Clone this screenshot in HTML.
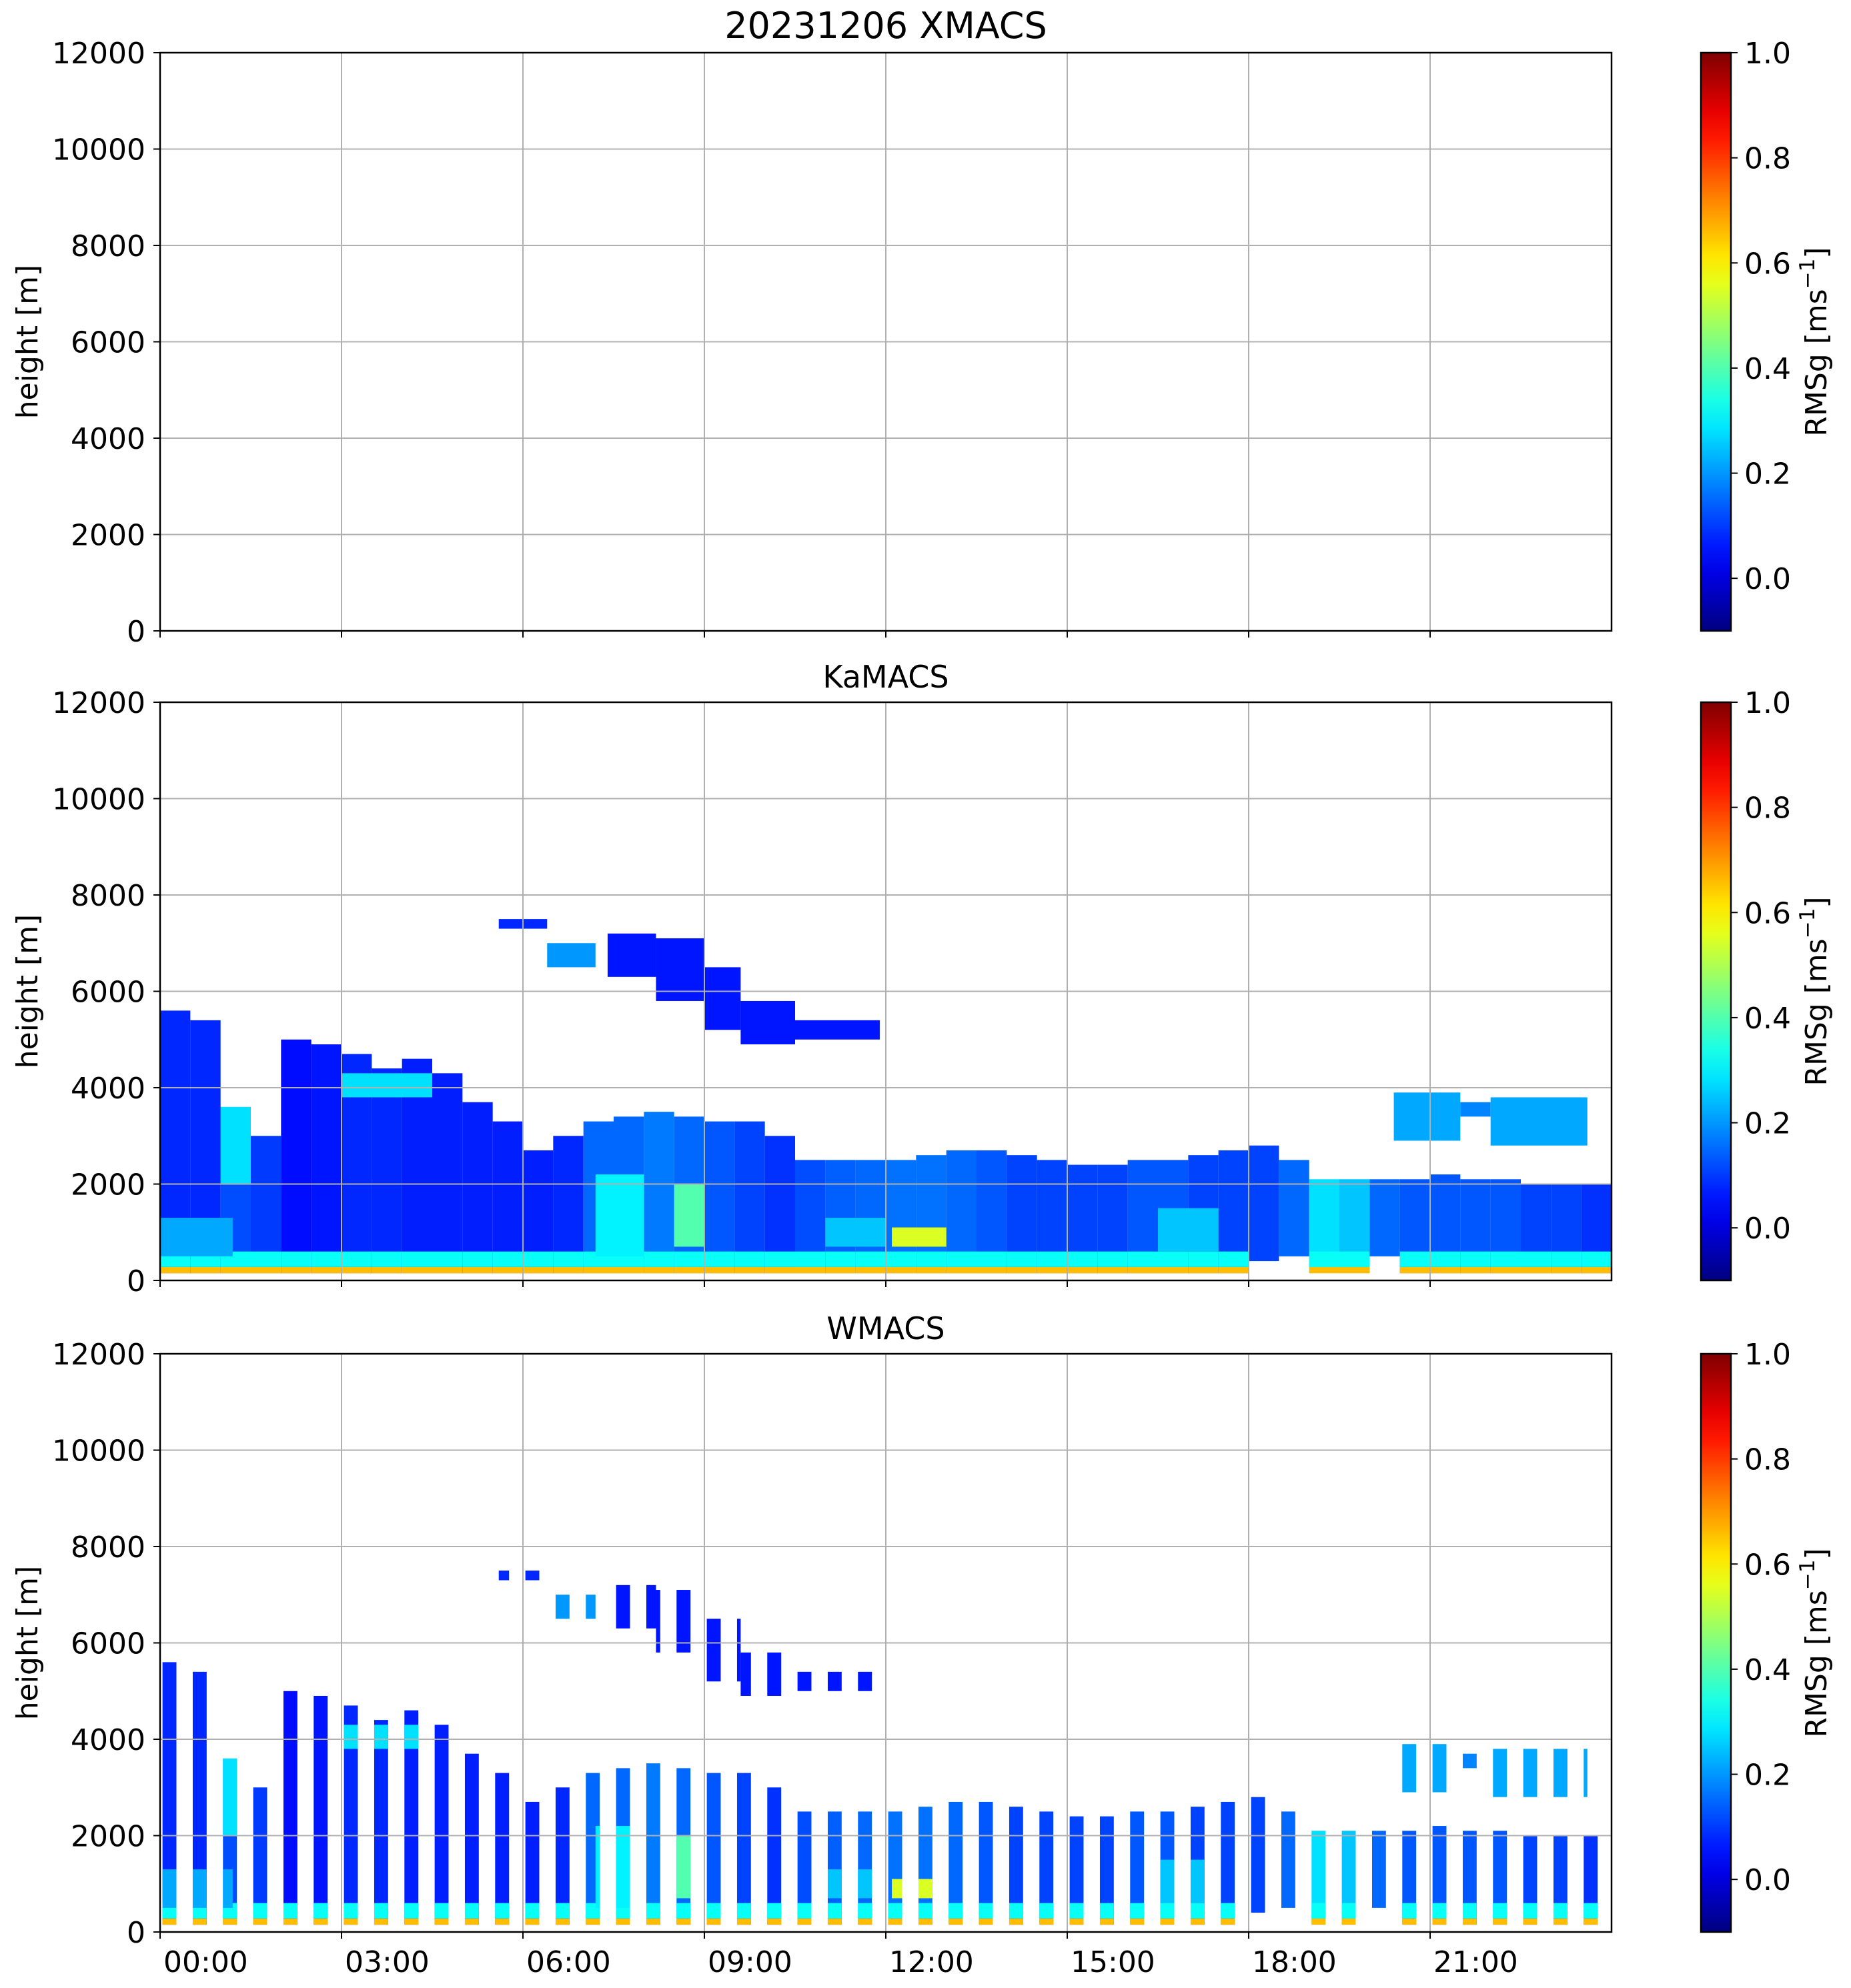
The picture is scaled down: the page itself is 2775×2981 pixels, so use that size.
<!DOCTYPE html>
<html><head><meta charset="utf-8"><style>
html,body{margin:0;padding:0;background:#fff}
svg{display:block;font-family:"DejaVu Sans","Liberation Sans",sans-serif}
</style></head><body>
<svg id="fig" width="2775" height="2981" viewBox="0 0 2775 2981" xmlns="http://www.w3.org/2000/svg"></svg>
<script>
// ---- data ----
const xTickLabels=["00:00","03:00","06:00","09:00","12:00","15:00","18:00","21:00"];
const xTickHours=[0,3,6,9,12,15,18,21];
const yTicks=[0,2000,4000,6000,8000,10000,12000];
const cbTicks=[0.0,0.2,0.4,0.6,0.8,1.0];
const panelTitles=["20231206 XMACS","KaMACS","WMACS"];
// main layer tops per half hour (m)
const mainTop=[5600,5400,3600,3000,5000,4900,4700,4400,4600,4300,3700,3300,2700,3000,3300,3400,3500,3400,3300,3300,3000,2500,2500,2500,2500,2600,2700,2700,2600,2500,2400,2400,2500,2500,2600,2700,2800,2500,2100,2100,2100,2100,2200,2100,2100,2000,2000,2000];
const mainBase=[150,150,150,150,150,150,150,150,150,150,150,150,150,150,150,150,150,150,150,150,150,150,150,150,150,150,150,150,150,150,150,150,150,150,150,150,400,500,150,150,500,150,150,150,150,150,150,150];
const mainVal=[0.08,0.08,0.12,0.1,0.05,0.06,0.08,0.08,0.07,0.07,0.07,0.07,0.07,0.08,0.15,0.15,0.17,0.15,0.13,0.11,0.09,0.12,0.14,0.15,0.16,0.16,0.15,0.13,0.11,0.11,0.11,0.11,0.13,0.13,0.11,0.11,0.11,0.15,0.28,0.25,0.15,0.13,0.13,0.13,0.13,0.11,0.11,0.09];
// patches: start hour, end hour, bottom m, top m, value
const patchStart=[5.6,6.4,7.4,8.2,9.0,9.6,10.5,20.4,21.5,22.0,7.2,8.5,12.1,3.0,1.0,0.0,11.0,16.5];
const patchEnd  =[6.4,7.2,8.2,9.0,9.6,10.5,11.9,21.5,22.0,23.6,8.0,9.0,13.0,4.5,1.5,1.2,12.0,17.5];
const patchBot  =[7300,6500,6300,5800,5200,4900,5000,2900,3400,2800,500,700,700,3800,2000,500,700,600];
const patchTop  =[7500,7000,7200,7100,6500,5800,5400,3900,3700,3800,2200,2000,1100,4300,3600,1300,1300,1500];
const patchVal  =[0.08,0.2,0.06,0.06,0.06,0.06,0.06,0.22,0.18,0.22,0.3,0.4,0.55,0.28,0.28,0.22,0.25,0.25];
// near-ground bands
const groundBot=[150,280];
const groundTop=[280,600];
const groundVal=[0.66,0.32];
// WMACS scan windows
const wOnStart=0.04, wOnDur=0.23, wPeriod=0.5, wCount=48;

// ---- layout ----
const NS="http://www.w3.org/2000/svg";
const svg=document.getElementById('fig');
const L=240,R=2416;
const panels=[{t:79,b:946},{t:1053,b:1920},{t:2030,b:2897}];
const cbL=2550,cbR=2595,vmin=-0.1,vmax=1.0;
function X(h){return L+h*(R-L)/24;}
function Y(p,m){return p.t+(12000-m)/12000*(p.b-p.t);}
function jet(v){let t=(v-vmin)/(vmax-vmin);t=Math.max(0,Math.min(1,t));
 const f=x=>Math.max(0,Math.min(1,1.5-Math.abs(4*t-x)));
 return `rgb(${Math.round(255*f(3))},${Math.round(255*f(2))},${Math.round(255*f(1))})`;}
function el(tag,attrs,parent){const e=document.createElementNS(NS,tag);for(const k in attrs)e.setAttribute(k,attrs[k]);(parent||svg).appendChild(e);return e;}

const defs=el('defs',{});
const grad=el('linearGradient',{id:'jetg',x1:0,y1:1,x2:0,y2:0},defs);
for(let i=0;i<=20;i++){el('stop',{offset:i/20,'stop-color':jet(vmin+(vmax-vmin)*i/20)},grad);}

function drawRect(g,p,h0,h1,m0,m1,v){
 const r=el('rect',{x:X(h0),y:Y(p,m1),width:Math.max(0,X(h1)-X(h0)),height:Math.max(0,Y(p,m0)-Y(p,m1)),fill:jet(v)},g);
 
 
}
function drawData(g,p,h0,h1){
 for(let i=0;i<mainTop.length;i++){
  const a=Math.max(h0,i*0.5),b=Math.min(h1,i*0.5+0.5);if(b<=a)continue;
  drawRect(g,p,a,b,mainBase[i],mainTop[i],mainVal[i]);
  if(mainBase[i]<200){for(let j=0;j<groundBot.length;j++)drawRect(g,p,a,b,groundBot[j],groundTop[j],groundVal[j]);}
 }
 for(let i=0;i<patchStart.length;i++){
  const a=Math.max(h0,patchStart[i]),b=Math.min(h1,patchEnd[i]);if(b<=a)continue;
  drawRect(g,p,a,b,patchBot[i],patchTop[i],patchVal[i]);
 }
}

panels.forEach((p,pi)=>{
 const g=el('g',{});
 
 
 const dg=el('g',{},g);
 
 
 if(pi===1)drawData(dg,p,0,24);
 if(pi===2){for(let k=0;k<wCount;k++){const s=k*wPeriod+wOnStart;drawData(dg,p,s,s+wOnDur);}}
 xTickHours.forEach((h,i)=>{if(h>0){const ln=el('line',{x1:X(h),x2:X(h),y1:p.t,y2:p.b,stroke:'#b0b0b0','stroke-width':2},g);}
  const tk=el('line',{x1:X(h),x2:X(h),y1:p.b,y2:p.b+10,stroke:'#000','stroke-width':2},g);
  
  if(pi===2){const tx=el('text',{x:X(h)+5,y:p.b+60,'font-size':44,fill:'#000'},g);tx.textContent=xTickLabels[i];
   }
 });
 yTicks.forEach(m=>{
  if(m>0&&m<12000){const ln=el('line',{x1:L,x2:R,y1:Y(p,m),y2:Y(p,m),stroke:'#b0b0b0','stroke-width':2},g);}
  el('line',{x1:L-10,x2:L,y1:Y(p,m),y2:Y(p,m),stroke:'#000','stroke-width':2},g);
  const tx=el('text',{x:L-22,y:Y(p,m)+16,'font-size':44,'text-anchor':'end',fill:'#000'},g);tx.textContent=String(m);
  
 });
 const fr=el('rect',{x:L,y:p.t,width:R-L,height:p.b-p.t,fill:'none',stroke:'#000','stroke-width':2.5},g);
 
 const yl=el('text',{x:0,y:0,'font-size':44,'text-anchor':'middle',transform:`translate(56,${(p.t+p.b)/2}) rotate(-90)`},g);yl.textContent='height [m]';
 
 const tt=el('text',{x:(L+R)/2,y:p.t-22,'font-size':pi===0?54:46,'text-anchor':'middle'},g);tt.textContent=panelTitles[pi];
 
 const cb=el('rect',{x:cbL,y:p.t,width:cbR-cbL,height:p.b-p.t,fill:'url(#jetg)',stroke:'#000','stroke-width':2.5},g);
 
 cbTicks.forEach(v=>{const yy=p.t+(vmax-v)/(vmax-vmin)*(p.b-p.t);
  el('line',{x1:cbR,x2:cbR+10,y1:yy,y2:yy,stroke:'#000','stroke-width':2},g);
  const tx=el('text',{x:cbR+20,y:yy+16,'font-size':44},g);tx.textContent=v.toFixed(1);
  });
 const cl=el('text',{x:0,y:0,'font-size':44,'text-anchor':'middle',transform:`translate(2738,${(p.t+p.b)/2}) rotate(-90)`},g);
 cl.innerHTML='RMSg [ms<tspan dy="-18" font-size="31">−1</tspan><tspan dy="18">]</tspan>';
 
});
</script>
</body></html>
